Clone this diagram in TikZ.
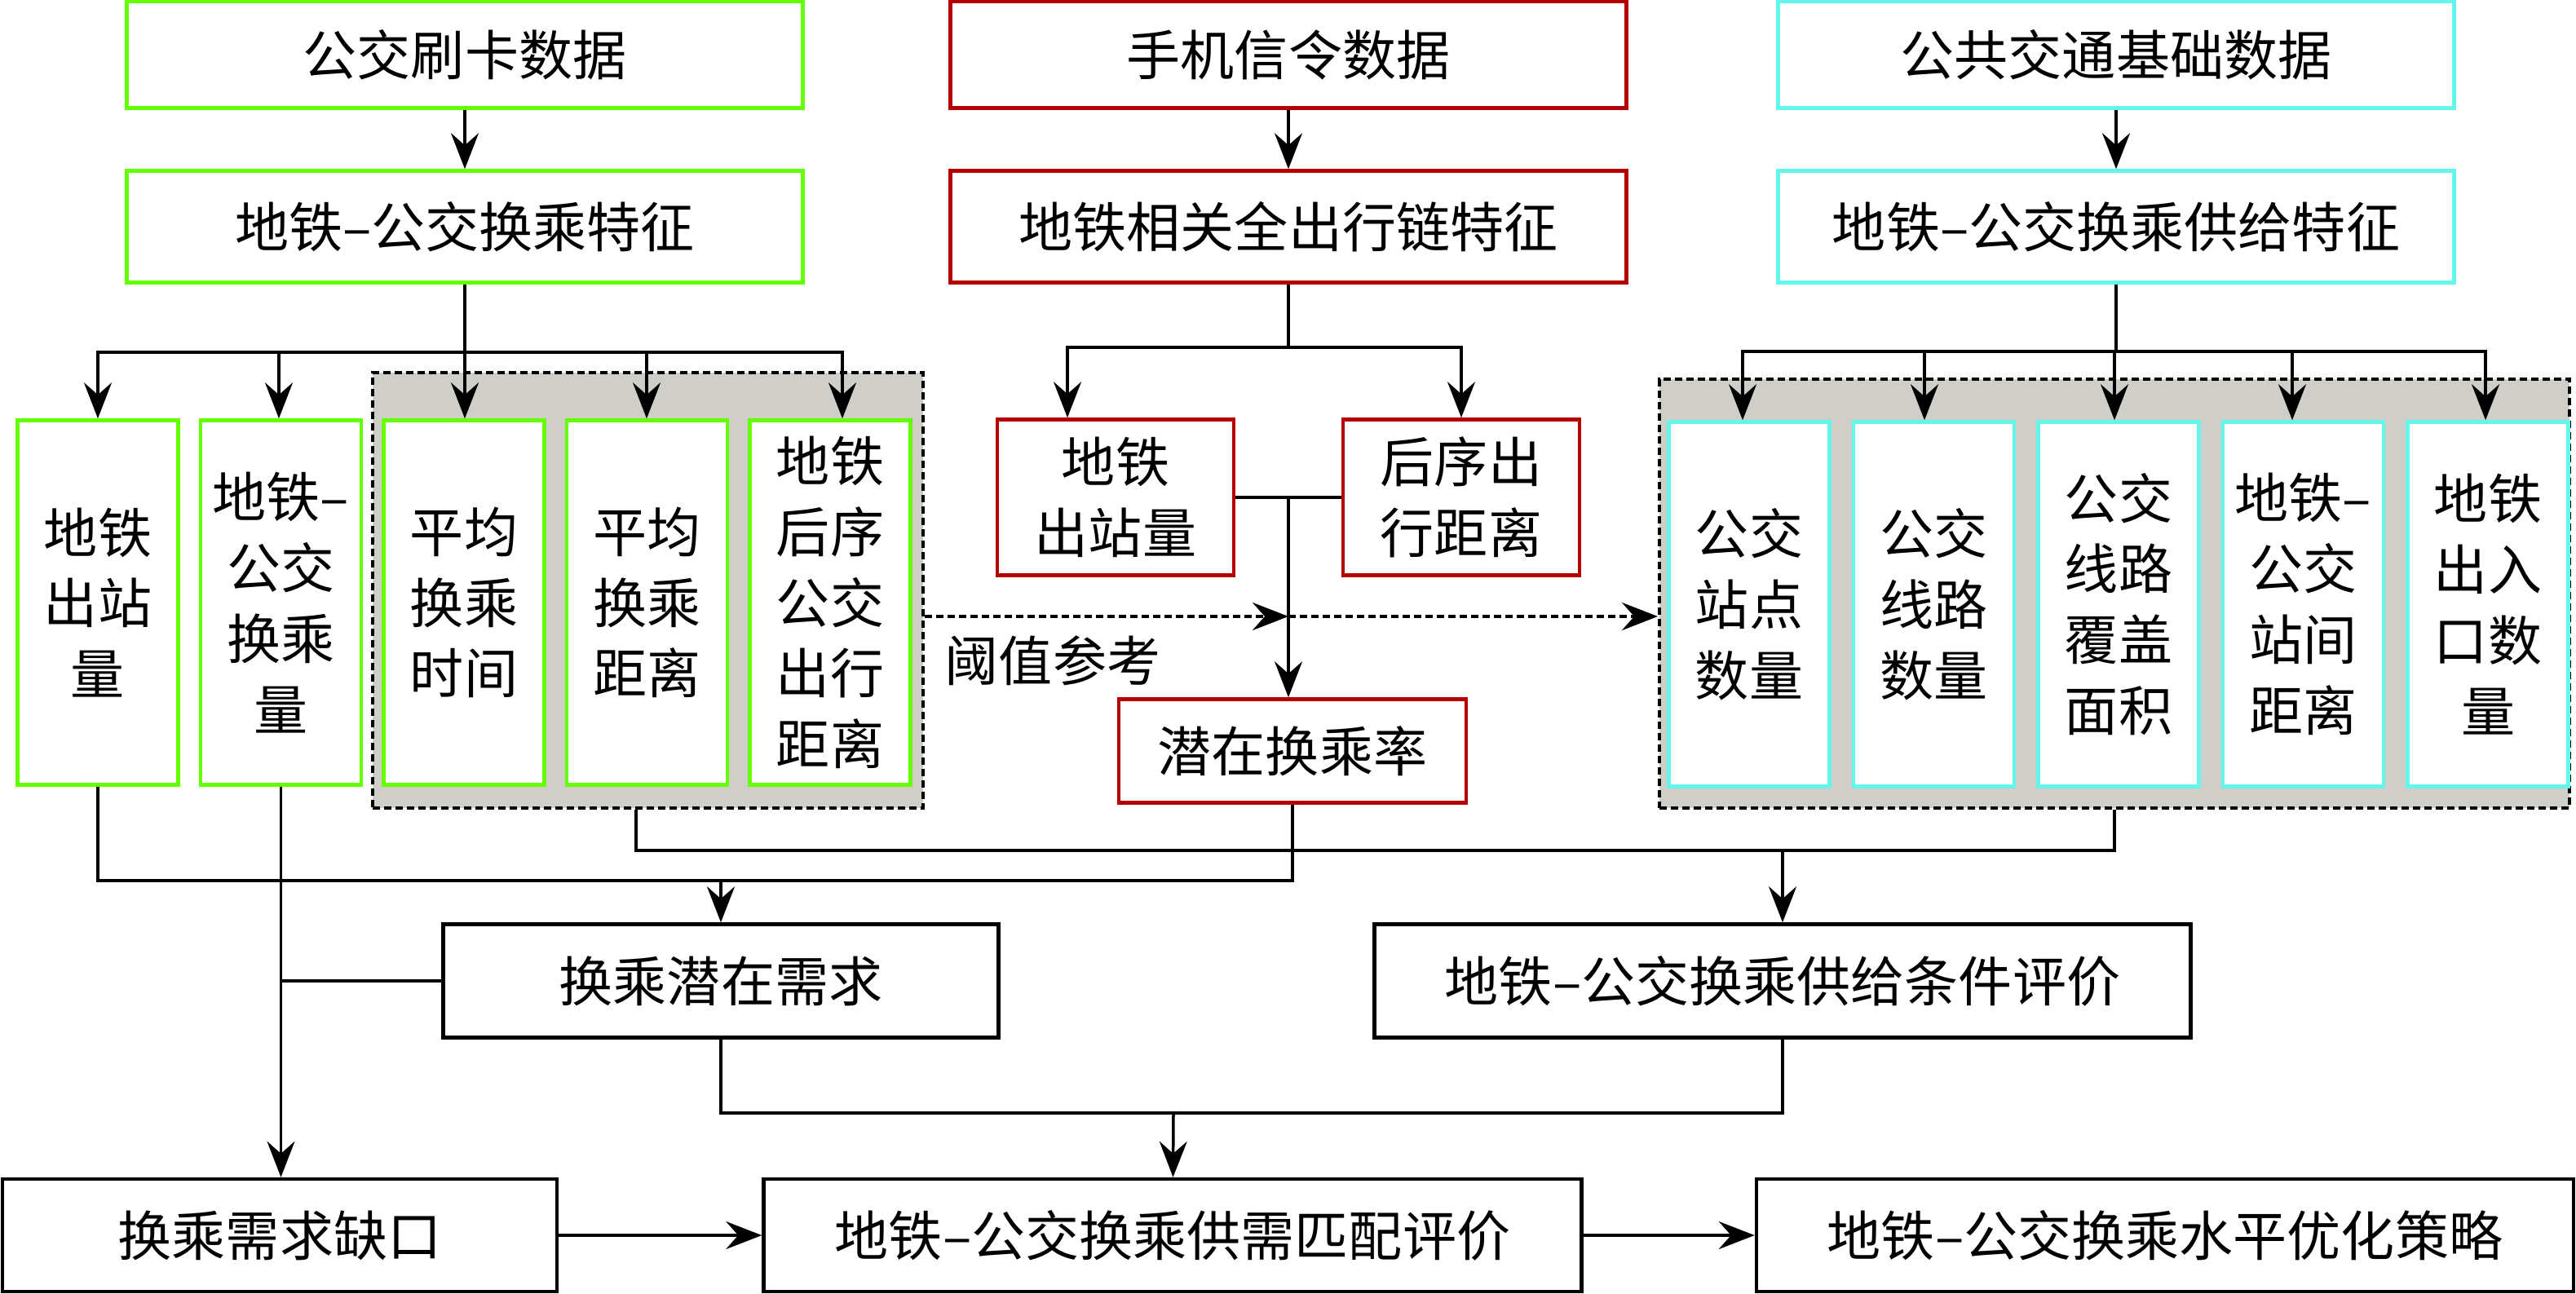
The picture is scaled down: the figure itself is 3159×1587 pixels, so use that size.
\documentclass[tikz,border=0pt]{standalone}
\usepackage{fontspec}
\newfontfamily\cjk{Noto Sans CJK SC}
\usepackage{xcolor}
\usepackage{tikz}
\usetikzlibrary{positioning, arrows.meta}

\definecolor{busgreen}{RGB}{102,255,0}
\definecolor{phonered}{RGB}{180,0,0}
\definecolor{infracyan}{RGB}{100,245,235}
\definecolor{panelgray}{RGB}{207,206,200}

\begin{document}
\begin{tikzpicture}[x=0.1mm, y=-0.1mm, node distance=2.3mm,
      >={Stealth[length=4.4mm, width=3.4mm, inset=1.5mm]},
      every node/.style={font=\cjk\fontsize{18.8pt}{24.7pt}\selectfont, align=center, inner sep=0pt},
      link/.style={line width=0.35mm},
      bus/.style={draw=busgreen, line width=0.45mm, fill=white},
      phone/.style={draw=phonered, line width=0.45mm, fill=white},
      infra/.style={draw=infracyan, line width=0.45mm, fill=white},
      result/.style={draw, line width=0.45mm, fill=white},
      panel/.style={draw, line width=0.4mm, dash pattern=on 0.9mm off 0.5mm, fill=panelgray},
      wide/.style={minimum width=82.9mm, minimum height=13.4mm},
      col/.style={minimum width=19.7mm, minimum height=44.7mm}]

    \useasboundingbox (0,0) rectangle (3159,1587);

    % data sources and features
    \node[bus, wide, minimum height=13.1mm] (A1) at (570,67) {公交刷卡数据};
    \node[bus, wide, minimum height=13.7mm] (A2) at (570,278) {地铁–公交换乘特征};
    \node[phone, wide, minimum height=13.1mm] (B1) at (1580,67) {手机信令数据};
    \node[phone, wide, minimum height=13.7mm] (B2) at (1580,278) {地铁相关全出行链特征};
    \node[infra, wide, minimum height=13.1mm] (C1) at (2595,67) {公共交通基础数据};
    \node[infra, wide, minimum height=13.7mm] (C2) at (2595,278) {地铁–公交换乘供给特征};

    % grey panels
    \node[panel, minimum width=67.5mm, minimum height=53.4mm] (pA) at (794,724) {};
    \node[panel, minimum width=111.6mm, minimum height=52.6mm] (pC) at (2593,728) {};

    % indicators
    \node[bus, col] (a1) at (120,739) {地铁\\出站\\量};
    \node[bus, col, right=of a1] (a2) {地铁–\\公交\\换乘\\量};
    \node[bus, col, right=of a2] (a3) {平均\\换乘\\时间};
    \node[bus, col, right=of a3] (a4) {平均\\换乘\\距离};
    \node[bus, col, right=of a4] (a5) {地铁\\后序\\公交\\出行\\距离};

    \node[phone, minimum width=29mm, minimum height=19.1mm] (b1) at (1368,610) {地铁\\出站量};
    \node[phone, minimum width=29mm, minimum height=19.1mm] (b2) at (1792,610) {后序出\\行距离};
    \node[phone, minimum width=42.6mm, minimum height=12.7mm] (b3) at (1585,921) {潜在换乘率};
    \node (thr) at (1291,810) {阈值参考};

    \node[infra, col] (c1) at (2145,741) {公交\\站点\\数量};
    \node[infra, col, right=2.5mm of c1] (c2) {公交\\线路\\数量};
    \node[infra, col, right=2.5mm of c2] (c3) {公交\\线路\\覆盖\\面积};
    \node[infra, col, right=2.5mm of c3] (c4) {地铁–\\公交\\站间\\距离};
    \node[infra, col, right=2.5mm of c4] (c5) {地铁\\出入\\口数\\量};

    % evaluation
    \node[result, minimum width=68.1mm, minimum height=13.9mm] (d1) at (884,1203) {换乘潜在需求};
    \node[result, minimum width=100.1mm, minimum height=13.9mm] (d2) at (2186,1203) {地铁–公交换乘供给条件评价};
    \node[result, minimum width=68mm, minimum height=13.8mm] (e1) at (343,1515) {换乘需求缺口};
    \node[result, minimum width=100.3mm, minimum height=13.8mm] (e2) at (1438,1515) {地铁–公交换乘供需匹配评价};
    \node[result, minimum width=100.2mm, minimum height=13.8mm] (e3) at (2655,1515) {地铁–公交换乘水平优化策略};

    \draw[link, ->] (A1) -- (A2);
    \draw[link, ->] (B1) -- (B2);
    \draw[link, ->] (C1) -- (C2);

    \coordinate (ja) at (570,432);
    \draw[link] (A2) -- (ja);
    \foreach \x/\n in {120/a1, 342/a2, 570/a3, 793/a4, 1033/a5}
      \draw[link, ->] (ja) -| (\x,0 |- \n.north);

    \coordinate (jb) at (1580,426);
    \draw[link] (B2) -- (jb);
    \draw[link, ->] (jb) -| (1309,0 |- b1.north);
    \draw[link, ->] (jb) -| (b2.north);
    \draw[link] (b1.east) -- (b2.west);
    \draw[link, ->] (jb |- b1.east) -- (jb |- b3.north);

    \coordinate (jt) at (1580,756);
    \draw[link, line width=0.4mm, dash pattern=on 0.9mm off 0.5mm, ->] (pA.east |- jt) -- (jt);
    \draw[link, line width=0.4mm, dash pattern=on 0.9mm off 0.5mm, ->] (jt) -- (pC.west |- jt);

    \coordinate (jc) at (2595,431);
    \draw[link] (C2) -- (jc);
    \foreach \x/\n in {2137/c1, 2360/c2, 2593/c3, 2811/c4, 3048/c5}
      \draw[link, ->] (jc) -| (\x,0 |- \n.north);

    \coordinate (jd) at (884,1080);
    \draw[link] (a1) |- (jd) -| (b3);
    \draw[link, ->] (jd) -- (d1);

    \coordinate (je) at (2186,1043);
    \draw[link] ([xshift=-1.4mm]pA.south) |- (je) -| (pC);
    \draw[link, ->] (je) -- (d2);

    \draw[link, ->] (a2) -- (a2 |- e1.north);
    \draw[link] (d1) -- (d1 -| a2);

    \coordinate (jm) at (1439,1365);
    \draw[link] (d1) |- (jm) -| (d2);
    \draw[link, ->] (jm) -- (e2);

    \draw[link, ->] (e1) -- (e2);
    \draw[link, ->] (e2) -- (e3);
  \end{tikzpicture}
\end{document}
